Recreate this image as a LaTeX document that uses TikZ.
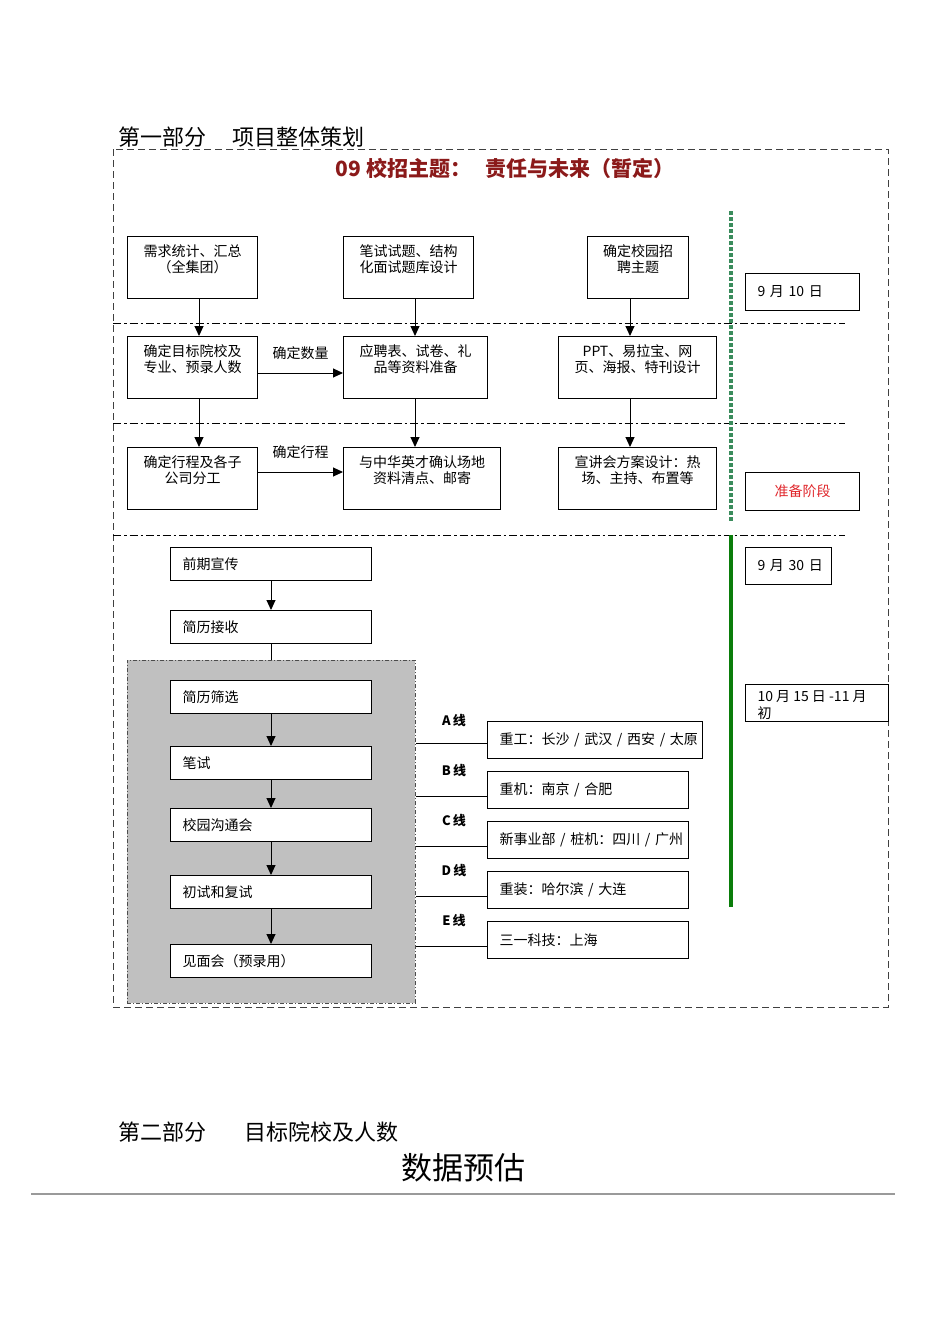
\documentclass[tikz,border=0pt]{standalone}
\usepackage{fontspec}
\setmainfont{Noto Sans CJK SC}
\usepackage{xcolor}
\usetikzlibrary{arrows.meta,positioning}
\definecolor{theme_red}{HTML}{8B1A1A}
\definecolor{stage_red}{HTML}{E0262B}
\definecolor{dot_green}{HTML}{3A8C5C}
\definecolor{bar_green}{HTML}{0A7D0A}
\definecolor{panel_gray}{HTML}{C0C0C0}
\definecolor{rule_gray}{HTML}{9A9A9A}
\newcommand{\toptext}[3]{\parbox[c][#2pt][t]{#1pt}{\centering\vspace*{8pt}#3}}

\begin{document}
\begin{tikzpicture}[x=1pt, y=-1pt, line width=1pt,
    arr/.style={-{Triangle[length=10pt,width=9pt]}},
    sep/.style={line width=0.9pt, dash pattern=on 8pt off 3pt on 2.5pt off 3pt},
    txt/.style={font=\fontsize{14}{16.5}\selectfont}]
  \tikzstyle{stage} = [draw, txt, anchor=north west, inner sep=0pt]
  \tikzstyle{flow} = [draw, txt, fill=white, anchor=north west, inner xsep=12pt, inner ysep=0pt, align=left, text width=#1]
  \useasboundingbox (0,0) rectangle (950,1344);
  % headings
  \node[anchor=base west, font=\fontsize{22}{26}\selectfont] (part1) at (115,145) {第一部分\hspace{26pt}项目整体策划};
  \node[font=\bfseries\fontsize{21}{25}\selectfont, text=theme_red] (motto) at (505,168) {09 校招主题：\hspace{14pt}责任与未来（暂定）};
  \draw[black!75, dash pattern=on 7pt off 4pt] (113,149) rectangle (888,1007);
  \foreach \y in {323, 423, 535}
    \draw[sep] (113,\y) -- (845,\y);
  % preparation boxes
  \foreach \n/\x/\y/\w/\t in {need/127/236/130/{需求统计、汇总\\（全集团）},
      exam/343/236/130/{笔试试题、结构\\化面试题库设计},
      theme/587/236/101/{确定校园招\\聘主题},
      target/127/336/130/{确定目标院校及\\专业、预录人数},
      material/343/336/144/{应聘表、试卷、礼\\品等资料准备},
      design/558/336/158/{PPT、易拉宝、网\\页、海报、特刊设计},
      schedule/127/447/130/{确定行程及各子\\公司分工},
      venue/343/447/157/{与中华英才确认场地\\资料清点、邮寄},
      plan/558/447/158/{宣讲会方案设计：热\\场、主持、布置等}}
    \node[stage] (\n) at (\x,\y) {\toptext{\w}{62}{\t}};
  \foreach \a/\b/\x in {need/target/199, target/schedule/199, exam/material/415, material/venue/415, theme/design/630, design/plan/630}
    \draw[arr] (\a.south -| \x,0) -- (\b.north -| \x,0);
  \draw[arr] (target.east |- 0,373) -- node[midway, above=10pt, txt] (qty) {确定数量} (material.west |- 0,373);
  \draw[arr] (schedule.east |- 0,472) -- node[midway, above=10pt, txt] (route) {确定行程} (venue.west |- 0,472);
  % time line
  \draw[dot_green, line width=3.5pt, dash pattern=on 3.5pt off 2.5pt] (731,211) -- (731,522);
  \draw[bar_green, line width=3.5pt] (731,535) -- (731,907);
  \node[flow=90, minimum height=37] (sep10) at (745,273) {\mbox{9 月 10 日}};
  \node[flow=90, minimum height=38, align=center, text=stage_red] (prep) at (745,472) {准备阶段};
  \node[flow=62, minimum height=37] (sep30) at (745,547) {\mbox{9 月 30 日}};
  \node[stage] (oct) at (745,684) {\parbox[c][37pt][t]{143pt}{\leftskip=12pt\vspace*{6pt}\mbox{10 月 15 日 -11 月}\\初}};
  % campus process
  \node[draw=black!70, fill=panel_gray, dash pattern=on 4pt off 2pt on 1pt off 2pt, line width=0.8pt, anchor=north west, minimum width=288, minimum height=343, inner sep=0pt] (campus) at (127,660) {};
  \foreach \n/\y/\t in {promo/547/前期宣传, resume/610/简历接收, screen/680/简历筛选, written/746/笔试, talk/808/校园沟通会, interview/875/初试和复试, meet/944/见面会（预录用）}
    \node[flow=177, minimum height=33] (\n) at (170,\y) {\t};
  \draw (resume.south) -- (resume.south |- campus.north);
  \foreach \a/\b in {promo/resume, screen/written, written/talk, talk/interview, interview/meet}
    \draw[arr] (\a) -- (\b);
  \foreach \n/\y/\l/\w/\t in {A/721/743/191/{重工：长沙 / 武汉 / 西安 / 太原},
      B/771/796/177/{重机：南京 / 合肥},
      C/821/846/177/{新事业部 / 桩机：四川 / 广州},
      D/871/896/177/{重装：哈尔滨 / 大连},
      E/921/946/177/{三一科技：上海}}
  {
    \node[flow=\w, minimum height=37] (line\n) at (487,\y) {\mbox{\t}};
    \draw (campus.east |- 0,\l) -- (line\n.west |- 0,\l);
    \node[font=\bfseries\fontsize{13}{15}\selectfont] (tag\n) at (454,\y) {\n\,线};
  }
  % part two
  \node[anchor=base west, font=\fontsize{22}{26}\selectfont] (part2) at (115,1140) {第二部分\hspace{38pt}目标院校及人数};
  \node[font=\fontsize{31}{36}\selectfont] (estimate) at (463,1168) {数据预估};
  \draw[rule_gray, line width=2pt] (31,1194) -- (895,1194);
\end{tikzpicture}
\end{document}
